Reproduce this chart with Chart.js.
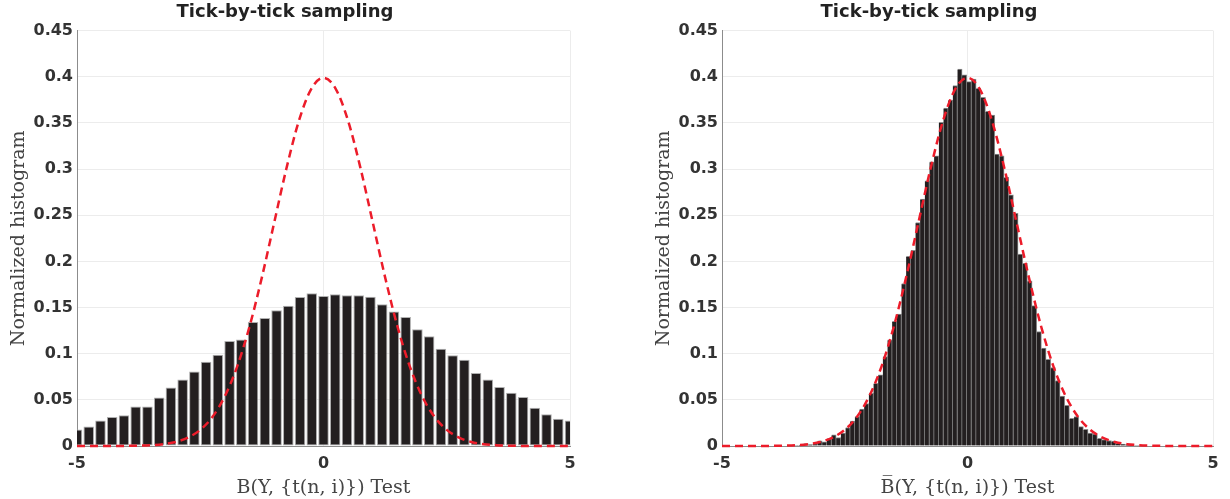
<!DOCTYPE html>
<html lang="en">
<head>
    <meta charset="UTF-8">
    <title>Tick-by-tick sampling</title>
    <script src="https://cdn.jsdelivr.net/npm/chart.js"></script>
    <style>
        body {
            margin: 0;
            padding: 0;
            background: #ffffff;
        }
        .row {
            display: flex;
            width: 1230px;
            height: 499px;
        }
        .panel {
            position: relative;
            width: 615px;
            height: 499px;
        }
    </style>
</head>
<body>
    <div class="row">
        <div class="panel"><canvas id="leftChart"></canvas></div>
        <div class="panel"><canvas id="rightChart"></canvas></div>
    </div>

    <script>
        // left panel: wide bins, raw B test
        const leftBins = [-5, -4.762, -4.524, -4.286, -4.048, -3.810, -3.571, -3.333, -3.095, -2.857,
            -2.619, -2.381, -2.143, -1.905, -1.667, -1.429, -1.190, -0.952, -0.714, -0.476,
            -0.238, 0, 0.238, 0.476, 0.714, 0.952, 1.190, 1.429, 1.667, 1.905,
            2.143, 2.381, 2.619, 2.857, 3.095, 3.333, 3.571, 3.810, 4.048, 4.286,
            4.524, 4.762, 5];
        const leftHist = [0.0179, 0.0211, 0.0277, 0.0313, 0.0334, 0.0428, 0.0428, 0.0526, 0.0635, 0.0721,
            0.0808, 0.0913, 0.0989, 0.1137, 0.1155, 0.1343, 0.1387, 0.147, 0.152, 0.1615,
            0.1654, 0.1625, 0.1643, 0.1632, 0.1632, 0.1618, 0.1535, 0.1456, 0.1397, 0.1264,
            0.1188, 0.1054, 0.0982, 0.0935, 0.079, 0.0721, 0.0638, 0.0577, 0.053, 0.0414,
            0.0345, 0.0295, 0.0277];

        // right panel: narrow bins, corrected B test
        const rightBins = [-3.482, -3.387, -3.292, -3.197, -3.102, -3.007, -2.912, -2.817, -2.722, -2.627,
            -2.532, -2.437, -2.342, -2.247, -2.152, -2.057, -1.962, -1.867, -1.772, -1.677,
            -1.582, -1.487, -1.392, -1.297, -1.202, -1.107, -1.012, -0.917, -0.822, -0.727,
            -0.632, -0.537, -0.442, -0.347, -0.252, -0.157, -0.062, 0.033, 0.128, 0.223,
            0.318, 0.413, 0.508, 0.603, 0.698, 0.793, 0.888, 0.983, 1.078, 1.173,
            1.268, 1.363, 1.458, 1.553, 1.648, 1.743, 1.838, 1.933, 2.028, 2.123,
            2.218, 2.313, 2.408, 2.503, 2.598, 2.693, 2.788, 2.883, 2.978, 3.073,
            3.168, 3.263, 3.358, 3.453];
        const rightHist = [0.0005, 0.0008, 0.0025, 0.0016, 0.0027, 0.0055, 0.0045, 0.008, 0.012, 0.009,
            0.014, 0.020, 0.027, 0.032, 0.040, 0.046, 0.057, 0.068, 0.077, 0.097,
            0.115, 0.135, 0.143, 0.176, 0.2056, 0.212, 0.2421, 0.2674, 0.2873, 0.3079,
            0.3144, 0.3506, 0.366, 0.3748, 0.3905, 0.4084, 0.402, 0.3947, 0.3976, 0.3875,
            0.3777, 0.3625, 0.3585, 0.3162, 0.3144, 0.291, 0.272, 0.252, 0.208, 0.198,
            0.179, 0.152, 0.124, 0.106, 0.094, 0.085, 0.071, 0.054, 0.044, 0.030,
            0.032, 0.021, 0.018, 0.014, 0.013, 0.0083, 0.007, 0.006, 0.0054, 0.003,
            0.002, 0.0015, 0.001, 0.0005];

        // reference density (red dashed)
        const refX = [-5, -4.75, -4.5, -4.25, -4, -3.75, -3.5, -3.25, -3, -2.75,
            -2.5, -2.25, -2, -1.75, -1.5, -1.25, -1, -0.75, -0.5, -0.25,
            0, 0.25, 0.5, 0.75, 1, 1.25, 1.5, 1.75, 2, 2.25,
            2.5, 2.75, 3, 3.25, 3.5, 3.75, 4, 4.25, 4.5, 4.75, 5];
        const refY = [0, 0, 0, 0, 0.0001, 0.0004, 0.0009, 0.002, 0.0044, 0.0091,
            0.0175, 0.0317, 0.054, 0.0863, 0.1295, 0.1827, 0.242, 0.3011, 0.3521, 0.3867,
            0.3989, 0.3867, 0.3521, 0.3011, 0.242, 0.1827, 0.1295, 0.0863, 0.054, 0.0317,
            0.0175, 0.0091, 0.0044, 0.002, 0.0009, 0.0004, 0.0001, 0, 0, 0, 0];

        const yTicks = [0, 0.05, 0.1, 0.15, 0.2, 0.25, 0.3, 0.35, 0.4, 0.45];
        const xTicks = [-5, 0, 5];

        const sansFont = '"DejaVu Sans", "Liberation Sans", Arial, sans-serif';
        const serifFont = '"DejaVu Serif", "Liberation Serif", serif';

        function makeChart(id, bins, hist, xLabel, padLeft, padRight, catPct, barBorder, barEdge) {
            const ctx = document.getElementById(id).getContext('2d');
            return new Chart(ctx, {
                data: {
                    datasets: [
                        {
                            type: 'line',
                            data: refX.map((x, i) => ({ x: x, y: refY[i] })),
                            borderColor: '#ec1c2a',
                            borderWidth: 2.5,
                            borderDash: [8, 5],
                            pointRadius: 0,
                            cubicInterpolationMode: 'monotone',
                            fill: false,
                            clip: 4,
                            order: 0
                        },
                        {
                            type: 'bar',
                            data: bins.map((x, i) => ({ x: x, y: hist[i] })),
                            backgroundColor: '#231f20',
                            borderColor: barEdge,
                            borderWidth: barBorder,
                            borderSkipped: false,
                            barPercentage: 1,
                            categoryPercentage: catPct,
                            order: 1
                        }
                    ]
                },
                options: {
                    responsive: true,
                    maintainAspectRatio: false,
                    animation: false,
                    layout: { padding: { left: padLeft, right: padRight, top: 0, bottom: 0 } },
                    plugins: {
                        legend: { display: false },
                        tooltip: { enabled: false },
                        title: {
                            display: true,
                            text: 'Tick-by-tick sampling',
                            color: '#222',
                            font: { family: sansFont, size: 18, weight: 'bold' },
                            padding: { top: 2, bottom: 7 }
                        }
                    },
                    scales: {
                        x: {
                            type: 'linear',
                            min: -5,
                            max: 5,
                            offset: false,
                            afterBuildTicks: axis => { axis.ticks = xTicks.map(v => ({ value: v })); },
                            afterFit: axis => { axis.height = 53; },
                            ticks: {
                                color: '#333',
                                padding: 8,
                                font: { family: sansFont, size: 16, weight: 'bold' }
                            },
                            grid: { color: '#ececec', drawTicks: false, offset: false },
                            border: { color: '#8c8c8c', width: 1 },
                            title: {
                                display: true,
                                text: xLabel,
                                color: '#444',
                                font: { family: serifFont, size: 19 },
                                padding: { top: 0, bottom: 0 }
                            }
                        },
                        y: {
                            type: 'linear',
                            min: 0,
                            max: 0.45,
                            afterBuildTicks: axis => { axis.ticks = yTicks.map(v => ({ value: v })); },
                            afterFit: axis => { axis.width = 77; },
                            ticks: {
                                color: '#333',
                                padding: 4,
                                font: { family: sansFont, size: 16, weight: 'bold' },
                                callback: v => String(+v.toFixed(2))
                            },
                            grid: { color: '#ececec', drawTicks: false },
                            border: { color: '#8c8c8c', width: 1 },
                            title: {
                                display: true,
                                text: 'Normalized histogram',
                                color: '#444',
                                font: { family: serifFont, size: 19 },
                                padding: { top: 8, bottom: 0 }
                            }
                        }
                    }
                }
            });
        }

        makeChart('leftChart', leftBins, leftHist, 'B(Y, {t(n, i)}) Test', 0, 45, 0.9, 1, '#b0b0b0');
        makeChart('rightChart', rightBins, rightHist, 'B\u0305(Y, {t(n, i)}) Test', 30, 17, 1,
            { top: 1, right: 1, left: 0, bottom: 0 }, '#8e8e8e');
    </script>
</body>
</html>
